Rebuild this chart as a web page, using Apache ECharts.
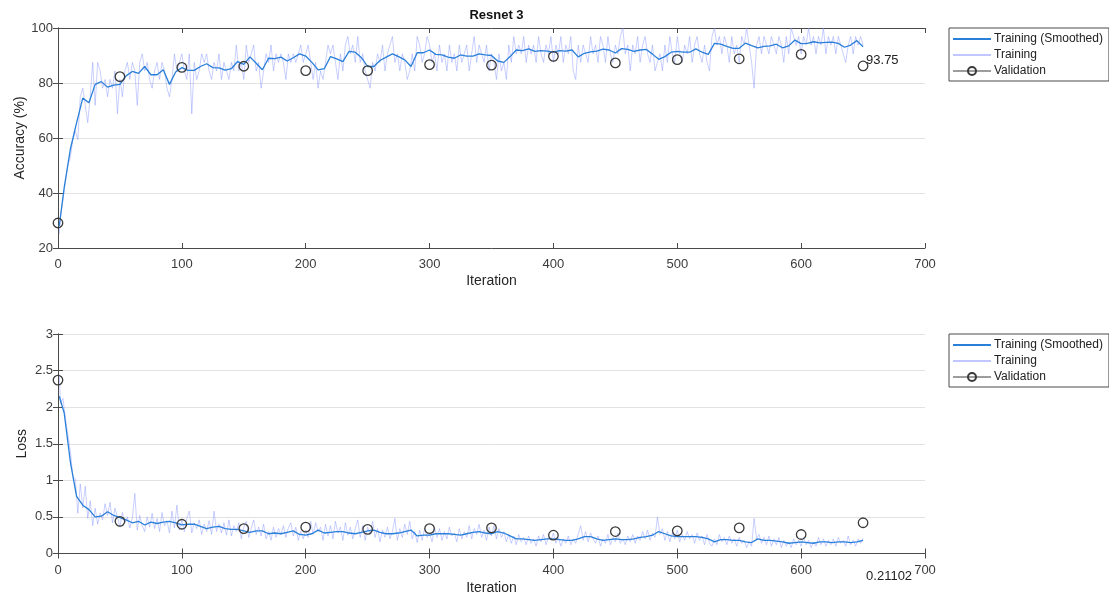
<!DOCTYPE html>
<html>
<head>
<meta charset="utf-8">
<script src="https://cdn.jsdelivr.net/npm/echarts@6/dist/echarts.min.js"></script>
<style>
  html, body { margin: 0; padding: 0; background: #fff; }
  #chart { width: 1109px; height: 600px; }
</style>
</head>
<body>
<div id="chart"></div>
<script>
// Training run "Resnet 3": accuracy and loss per iteration
const TITLE = 'Resnet 3';
const SERIES_NAMES = ['Training (Smoothed)', 'Training', 'Validation'];
const X_TICKS = [0, 100, 200, 300, 400, 500, 600, 700];
const ACC_TICKS = [20, 40, 60, 80, 100];
const LOSS_TICKS = [0, 0.5, 1, 1.5, 2, 2.5, 3];

// raw mini-batch values, one every 2 iterations
const RAW_STEP = 2;
const accRaw = [
  25, 31.3, 37.5, 43.8, 50, 53.1, 59.4, 62.5, 59.4, 75, 78.1, 71.9, 65.6, 75, 87.5, 71.9,
  87.5, 84.4, 78.1, 81.3, 75, 81.3, 78.1, 84.4, 68.8, 81.3, 75, 84.4, 87.5, 81.3, 87.5, 84.4,
  71.9, 87.5, 90.6, 84.4, 87.5, 81.3, 78.1, 84.4, 87.5, 81.3, 87.5, 84.4, 78.1, 75, 81.3, 90.6,
  84.4, 87.5, 90.6, 84.4, 81.3, 90.6, 68.8, 87.5, 81.3, 84.4, 90.6, 87.5, 90.6, 84.4, 81.3, 87.5,
  84.4, 90.6, 81.3, 87.5, 84.4, 81.3, 87.5, 84.4, 93.8, 84.4, 87.5, 81.3, 93.8, 87.5, 90.6, 93.8,
  84.4, 87.5, 78.1, 84.4, 90.6, 87.5, 93.8, 84.4, 90.6, 87.5, 90.6, 87.5, 81.3, 90.6, 87.5, 90.6,
  87.5, 90.6, 93.8, 87.5, 90.6, 93.8, 87.5, 81.3, 87.5, 78.1, 84.4, 81.3, 87.5, 93.8, 90.6, 93.8,
  87.5, 81.3, 90.6, 84.4, 93.8, 96.9, 90.6, 93.8, 87.5, 96.9, 87.5, 90.6, 84.4, 81.3, 78.1, 87.5,
  84.4, 90.6, 87.5, 93.8, 84.4, 90.6, 93.8, 96.9, 87.5, 90.6, 84.4, 90.6, 87.5, 81.3, 84.4, 90.6,
  84.4, 96.9, 93.8, 87.5, 90.6, 96.9, 93.8, 87.5, 90.6, 84.4, 93.8, 87.5, 90.6, 84.4, 93.8, 87.5,
  90.6, 84.4, 93.8, 87.5, 90.6, 93.8, 84.4, 90.6, 96.9, 87.5, 93.8, 90.6, 87.5, 93.8, 84.4, 90.6,
  87.5, 81.3, 90.6, 84.4, 87.5, 81.3, 93.8, 87.5, 96.9, 90.6, 93.8, 90.6, 96.9, 87.5, 93.8, 90.6,
  93.8, 87.5, 96.9, 90.6, 87.5, 93.8, 90.6, 96.9, 87.5, 93.8, 90.6, 96.9, 87.5, 93.8, 90.6, 96.9,
  84.4, 81.3, 93.8, 87.5, 93.8, 90.6, 87.5, 96.9, 90.6, 93.8, 87.5, 96.9, 93.8, 87.5, 96.9, 90.6,
  87.5, 93.8, 90.6, 96.9, 100, 90.6, 93.8, 84.4, 93.8, 90.6, 96.9, 87.5, 93.8, 96.9, 90.6, 87.5,
  93.8, 84.4, 87.5, 90.6, 84.4, 93.8, 87.5, 96.9, 90.6, 87.5, 96.9, 90.6, 87.5, 93.8, 90.6, 96.9,
  87.5, 93.8, 96.9, 90.6, 87.5, 93.8, 87.5, 84.4, 96.9, 100, 93.8, 96.9, 90.6, 96.9, 93.8, 87.5,
  96.9, 90.6, 93.8, 87.5, 96.9, 93.8, 100, 93.8, 87.5, 78.1, 93.8, 96.9, 90.6, 96.9, 93.8, 90.6,
  96.9, 93.8, 90.6, 96.9, 93.8, 87.5, 96.9, 90.6, 100, 96.9, 93.8, 96.9, 90.6, 96.9, 93.8, 100,
  93.8, 96.9, 90.6, 96.9, 93.8, 100, 90.6, 96.9, 93.8, 96.9, 90.6, 96.9, 93.8, 90.6, 87.5, 93.8,
  96.9, 90.6, 96.9, 93.8, 96.9, 93.75
];
const lossRaw = [
  2.45, 2.05, 2.12, 1.85, 1.62, 1.40, 1.05, 1.02, 0.55, 0.95, 0.62, 0.92, 0.48, 0.72, 0.38, 0.62,
  0.40, 0.55, 0.46, 0.68, 0.52, 0.70, 0.42, 0.62, 0.50, 0.36, 0.56, 0.42, 0.50, 0.35, 0.48, 0.82,
  0.32, 0.52, 0.38, 0.30, 0.50, 0.36, 0.55, 0.34, 0.48, 0.30, 0.56, 0.38, 0.45, 0.28, 0.58, 0.35,
  0.66, 0.32, 0.45, 0.30, 0.48, 0.58, 0.28, 0.42, 0.34, 0.46, 0.26, 0.40, 0.30, 0.45, 0.26, 0.58,
  0.30, 0.40, 0.28, 0.42, 0.25, 0.46, 0.24, 0.38, 0.30, 0.42, 0.20, 0.36, 0.44, 0.22, 0.34, 0.46,
  0.26, 0.36, 0.24, 0.40, 0.20, 0.30, 0.18, 0.36, 0.22, 0.34, 0.26, 0.38, 0.22, 0.35, 0.42, 0.24,
  0.36, 0.18, 0.30, 0.20, 0.32, 0.22, 0.44, 0.26, 0.42, 0.30, 0.36, 0.18, 0.40, 0.24, 0.38, 0.20,
  0.44, 0.28, 0.36, 0.18, 0.42, 0.25, 0.36, 0.20, 0.34, 0.46, 0.22, 0.38, 0.18, 0.36, 0.26, 0.44,
  0.22, 0.34, 0.16, 0.32, 0.22, 0.36, 0.20, 0.30, 0.48, 0.18, 0.34, 0.22, 0.40, 0.26, 0.44, 0.20,
  0.30, 0.15, 0.32, 0.18, 0.34, 0.22, 0.28, 0.16, 0.36, 0.22, 0.34, 0.18, 0.30, 0.20, 0.36, 0.24,
  0.28, 0.16, 0.34, 0.20, 0.30, 0.22, 0.38, 0.20, 0.34, 0.26, 0.40, 0.22, 0.32, 0.18, 0.36, 0.24,
  0.38, 0.20, 0.34, 0.22, 0.30, 0.16, 0.26, 0.14, 0.24, 0.12, 0.26, 0.16, 0.22, 0.12, 0.24, 0.14,
  0.20, 0.10, 0.24, 0.16, 0.26, 0.12, 0.22, 0.18, 0.28, 0.14, 0.22, 0.10, 0.20, 0.14, 0.24, 0.12,
  0.20, 0.14, 0.26, 0.38, 0.18, 0.30, 0.16, 0.28, 0.20, 0.14, 0.24, 0.10, 0.20, 0.14, 0.26, 0.12,
  0.22, 0.16, 0.28, 0.14, 0.20, 0.12, 0.24, 0.16, 0.26, 0.14, 0.24, 0.18, 0.30, 0.20, 0.32, 0.18,
  0.28, 0.22, 0.50, 0.26, 0.34, 0.18, 0.30, 0.16, 0.28, 0.20, 0.32, 0.16, 0.26, 0.18, 0.30, 0.20,
  0.26, 0.14, 0.28, 0.18, 0.24, 0.12, 0.26, 0.14, 0.10, 0.20, 0.12, 0.26, 0.16, 0.22, 0.12, 0.24,
  0.14, 0.20, 0.10, 0.22, 0.14, 0.18, 0.08, 0.16, 0.10, 0.48, 0.20, 0.26, 0.14, 0.22, 0.12, 0.24,
  0.10, 0.20, 0.12, 0.22, 0.08, 0.18, 0.10, 0.16, 0.08, 0.20, 0.12, 0.18, 0.10, 0.22, 0.12, 0.18,
  0.08, 0.16, 0.10, 0.22, 0.12, 0.20, 0.10, 0.18, 0.12, 0.20, 0.10, 0.22, 0.14, 0.18, 0.10, 0.24,
  0.12, 0.18, 0.10, 0.20, 0.14, 0.21102
];

// smoothed curves, one value every 5 iterations
const SMOOTH_STEP = 5;
const accSmooth = [
  28, 42, 56, 65.5, 74.5, 72.8, 79.5, 80.5, 78.5, 79.2, 79.5, 82.6, 84.2, 83.5, 86, 83,
  83, 84.8, 79.5, 84, 85.6, 84.6, 84.6, 86, 87, 85.6, 85.5, 84.7, 85.2, 87.8, 86.8, 89.5,
  87.2, 84.8, 89, 88.9, 89.4, 88, 89.2, 90.6, 89.8, 87.5, 84.8, 85.2, 89.6, 88.8, 87.8, 91.5,
  91.2, 89.2, 86, 86, 88.2, 89.4, 90.6, 89.6, 88.4, 86, 91, 91, 92, 90.4, 90.2, 89.4,
  89, 90.2, 89.8, 89.8, 90.6, 90.2, 90, 88, 87.5, 89.6, 92, 91.8, 92.4, 91.5, 91.8, 91.6,
  91.2, 91.8, 91.6, 92, 89.5, 90.8, 91.3, 91.6, 92.3, 92, 90.9, 92.5, 92.2, 91.5, 92, 92.2,
  90.5, 88.6, 89.6, 91.2, 91.5, 91.2, 91.2, 92.4, 91.2, 90.4, 94.4, 94.1, 93.3, 92.6, 92.6, 94.5,
  93.6, 92.8, 93.3, 93.5, 94.1, 92.8, 93.5, 95.6, 94.3, 94.4, 95, 94.6, 94.8, 94.9, 94.4, 93,
  93.8, 95.4, 93.2
];
const lossSmooth = [
  2.15, 1.92, 1.25, 0.78, 0.66, 0.60, 0.50, 0.51, 0.57, 0.52, 0.49, 0.46, 0.42, 0.44, 0.39, 0.43,
  0.41, 0.43, 0.44, 0.42, 0.39, 0.40, 0.40, 0.37, 0.34, 0.36, 0.37, 0.34, 0.33, 0.33, 0.31, 0.29,
  0.31, 0.31, 0.27, 0.28, 0.27, 0.29, 0.31, 0.26, 0.25, 0.27, 0.32, 0.28, 0.29, 0.30, 0.30, 0.28,
  0.27, 0.29, 0.31, 0.32, 0.29, 0.27, 0.27, 0.28, 0.30, 0.32, 0.24, 0.25, 0.25, 0.27, 0.27, 0.27,
  0.26, 0.25, 0.27, 0.29, 0.30, 0.28, 0.27, 0.30, 0.28, 0.24, 0.20, 0.20, 0.19, 0.18, 0.19, 0.20,
  0.20, 0.19, 0.18, 0.18, 0.20, 0.23, 0.23, 0.20, 0.18, 0.19, 0.20, 0.19, 0.19, 0.20, 0.22, 0.23,
  0.25, 0.30, 0.27, 0.24, 0.23, 0.23, 0.23, 0.23, 0.22, 0.20, 0.16, 0.19, 0.19, 0.18, 0.18, 0.16,
  0.15, 0.20, 0.18, 0.18, 0.17, 0.16, 0.14, 0.15, 0.16, 0.15, 0.14, 0.16, 0.16, 0.15, 0.16, 0.16,
  0.15, 0.16, 0.18
];

// validation checks every 50 iterations
const valIter = [0, 50, 100, 150, 200, 250, 300, 350, 400, 450, 500, 550, 600, 650];
const accVal = [29.1, 82.3, 85.7, 86.1, 84.5, 84.5, 86.7, 86.5, 89.7, 87.3, 88.5, 88.8, 90.4, 86.2];
const lossVal = [2.37, 0.44, 0.40, 0.34, 0.36, 0.33, 0.34, 0.35, 0.25, 0.30, 0.31, 0.35, 0.26, 0.42];

// ---------------------------------------------------------------------------
const FONT = '"Liberation Sans", Arial, Helvetica, sans-serif';
const AXIS_COLOR = '#4a4a4a';
const TEXT_COLOR = '#3c3c3c';
const SMOOTH_COLOR = '#2a7fd8';
const RAW_COLOR = 'rgba(125,140,255,0.42)';

const pairs = (vals, step) => vals.map((v, i) => [Math.max(1, i * step), v]);

const grids = [
  { left: 58, top: 28, width: 867, height: 220, outerBoundsMode: 'none', containLabel: false },
  { left: 58, top: 334, width: 867, height: 219.5, outerBoundsMode: 'none', containLabel: false }
];

function xAxes(gi) {
  const common = {
    type: 'value', gridIndex: gi, min: X_TICKS[0], max: X_TICKS[X_TICKS.length - 1], interval: 100,
    axisLine: { show: true, lineStyle: { color: AXIS_COLOR, width: 1 } },
    axisTick: { show: true, inside: true, length: 5, lineStyle: { color: AXIS_COLOR } },
    splitLine: { show: false }
  };
  return [
    Object.assign({}, common, {
      position: 'bottom', name: 'Iteration', nameLocation: 'middle', nameGap: gi === 0 ? 26 : 28,
      nameMoveOverlap: false,
      nameTextStyle: { fontSize: 14, color: '#262626', fontFamily: FONT },
      axisLabel: { fontSize: 13, color: TEXT_COLOR, fontFamily: FONT, margin: 10 }
    }),
    Object.assign({}, common, { position: 'top', axisLabel: { show: false } })
  ];
}

function yAxes(gi, ticks, interval, name, gap) {
  const common = {
    type: 'value', gridIndex: gi, min: ticks[0], max: ticks[ticks.length - 1], interval: interval,
    axisLine: { show: true, lineStyle: { color: AXIS_COLOR, width: 1 } },
    axisTick: { show: true, inside: true, length: 5, lineStyle: { color: AXIS_COLOR } }
  };
  return [
    Object.assign({}, common, {
      position: 'left', name: name, nameLocation: 'middle', nameGap: gap, nameMoveOverlap: false,
      nameTextStyle: { fontSize: 14, color: '#262626', fontFamily: FONT },
      axisLabel: { fontSize: 13, color: TEXT_COLOR, fontFamily: FONT, margin: 5 },
      splitLine: { show: true, lineStyle: { color: '#e2e2e2', width: 1 } }
    }),
    Object.assign({}, common, { position: 'right', axisLabel: { show: false }, splitLine: { show: false } })
  ];
}

function panelSeries(gi, raw, smooth, valY, endOffset) {
  const xi = gi * 2, yi = gi * 2;
  return [
    {
      name: SERIES_NAMES[1], type: 'line', xAxisIndex: xi, yAxisIndex: yi,
      data: pairs(raw, RAW_STEP),
      showSymbol: false, symbol: 'none', animation: false, z: 2,
      lineStyle: { color: RAW_COLOR, width: 1 }, itemStyle: { color: RAW_COLOR },
      // final mini-batch value written next to the end of the curve
      endLabel: {
        show: true, distance: 0, offset: endOffset,
        formatter: p => String(p.value[1]),
        color: '#222', fontSize: 13, fontFamily: FONT
      }
    },
    {
      name: SERIES_NAMES[0], type: 'line', xAxisIndex: xi, yAxisIndex: yi,
      data: pairs(smooth, SMOOTH_STEP),
      showSymbol: false, symbol: 'none', animation: false, z: 3,
      lineStyle: { color: SMOOTH_COLOR, width: 1.3 }, itemStyle: { color: SMOOTH_COLOR }
    },
    {
      name: SERIES_NAMES[2], type: 'line', xAxisIndex: xi, yAxisIndex: yi,
      data: valIter.map((it, i) => [it, valY[i]]),
      symbol: 'circle', symbolSize: 9.5, showSymbol: true, animation: false, z: 4,
      lineStyle: { width: 0, opacity: 0 },
      itemStyle: { color: 'rgba(255,255,255,0)', borderColor: '#3a3a3a', borderWidth: 1.3 }
    }
  ];
}

function legendAt(top) {
  return {
    orient: 'vertical', left: 949, top: top, width: 159,
    backgroundColor: '#fff', borderColor: '#4a4a4a', borderWidth: 1, borderRadius: 0,
    padding: [5, 6, 4, 3], itemGap: 4, itemWidth: 38, itemHeight: 10,
    selectedMode: false,
    textStyle: { fontSize: 12, color: '#222', fontFamily: FONT, padding: [0, 0, 0, -2] },
    data: [
      { name: SERIES_NAMES[0], itemStyle: { opacity: 0 } },
      { name: SERIES_NAMES[1], lineStyle: { color: 'rgba(150,160,255,0.6)' }, itemStyle: { opacity: 0 } },
      { name: SERIES_NAMES[2], lineStyle: { width: 1, color: '#3a3a3a', opacity: 1 } }
    ]
  };
}

const chart = echarts.init(document.getElementById('chart'), null, { renderer: 'canvas' });
chart.setOption({
  backgroundColor: '#fff',
  animation: false,
  title: {
    text: TITLE, left: 491.5, textAlign: 'center', top: 4,
    textStyle: { fontSize: 13, fontWeight: 'bold', color: '#111', fontFamily: FONT }
  },
  legend: [legendAt(28), legendAt(334)],
  grid: grids,
  xAxis: [...xAxes(0), ...xAxes(1)],
  yAxis: [
    ...yAxes(0, ACC_TICKS, 20, 'Accuracy (%)', 31),
    ...yAxes(1, LOSS_TICKS, 0.5, 'Loss', 29)
  ],
  series: [
    ...panelSeries(0, accRaw, accSmooth, accVal, [3, 15]),
    ...panelSeries(1, lossRaw, lossSmooth, lossVal, [3, 38])
  ]
});
</script>
</body>
</html>
